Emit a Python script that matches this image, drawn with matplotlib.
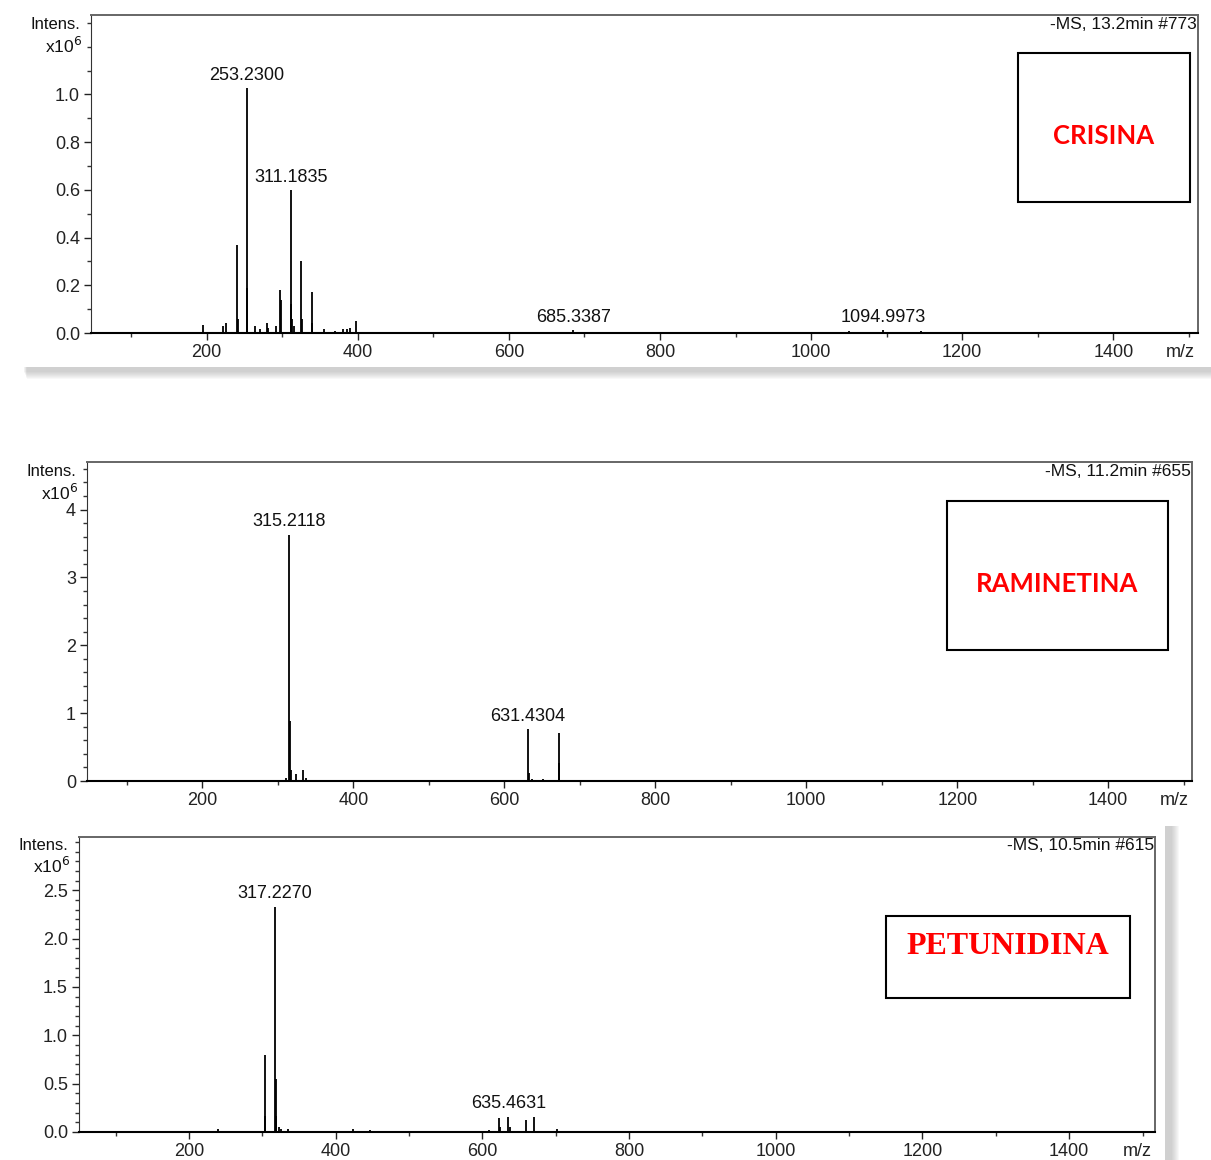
import numpy as np
import matplotlib.pyplot as plt
from matplotlib.patches import Rectangle
from matplotlib.ticker import FixedLocator

# Data ....................................................................

crisina_mz = [195, 222, 226, 240, 241, 253.23, 254, 264, 271, 280, 281, 292, 297, 299, 311.18, 312, 313,
              316, 325, 326, 339, 340, 355, 370, 380, 386, 390, 398, 430, 470, 520, 560, 600, 640,
              685.34, 710, 1050, 1095.0, 1145]
crisina_int = [0.035, 0.03, 0.04, 0.37, 0.06, 1.025, 0.19, 0.03, 0.015, 0.04, 0.02, 0.03, 0.18, 0.14, 0.60, 0.12,
               0.06, 0.03, 0.30, 0.06, 0.17, 0.04, 0.015, 0.01, 0.015, 0.015, 0.02, 0.05, 0.006, 0.006, 0.006,
               0.006, 0.006, 0.006, 0.012, 0.006, 0.01, 0.012, 0.008]
crisina_labels = [(253.23, "253.2300"), (311.18, "311.1835"), (685.34, "685.3387"), (1095.0, "1094.9973")]

raminetina_mz = [205, 255, 300, 311, 315.21, 316, 317, 324, 333, 337, 358, 405, 631.43, 632, 636, 651, 659,
                 672, 673, 695]
raminetina_int = [0.01, 0.01, 0.01, 0.04, 3.63, 0.88, 0.16, 0.10, 0.16, 0.05, 0.01, 0.01, 0.76, 0.12, 0.03,
                  0.03, 0.02, 0.70, 0.27, 0.02]
raminetina_labels = [(315.21, "315.2118"), (631.43, "631.4304")]

petunidina_mz = [240, 290, 303, 304, 317.23, 318, 319, 322, 326, 335, 424, 447, 609, 623, 624, 635.46, 637,
                 659, 671, 702, 735, 760]
petunidina_int = [0.03, 0.01, 0.80, 0.17, 2.33, 0.55, 0.17, 0.05, 0.03, 0.03, 0.03, 0.02, 0.02, 0.145, 0.05,
                  0.16, 0.05, 0.12, 0.15, 0.03, 0.01, 0.01]
petunidina_labels = [(317.23, "317.2270"), (635.46, "635.4631")]

scan_titles = ["-MS, 13.2min #773", "-MS, 11.2min #655", "-MS, 10.5min #615"]
compounds = ["CRISINA", "RAMINETINA", "PETUNIDINA"]

# Figure ..........................................................................................

W, H = 1211, 1160
fig = plt.figure(figsize=(W / 100, H / 100), dpi=100)
plt.rcParams['font.family'] = ['Liberation Sans', 'DejaVu Sans']

def px_rect(x0, y0, x1, y1):
    # pixel box (top-left origin) -> figure fraction rect
    return [x0 / W, 1 - y1 / H, (x1 - x0) / W, (y1 - y0) / H]

def card(x0, y0, x1, y1, dx, dy):
    # soft drop shadow + white card behind a panel
    for k in range(8, 0, -1):
        r = px_rect(x0 + k * 0.5, y0 + dy * 0.5, x1 + dx + k, y1 + dy + k)
        fig.patches.append(Rectangle(r[:2], r[2], r[3], transform=fig.transFigure,
                                     facecolor='#808080', alpha=0.05, edgecolor='none', zorder=-2))
    r = px_rect(x0, y0, x1, y1)
    fig.patches.append(Rectangle(r[:2], r[2], r[3], transform=fig.transFigure,
                                 facecolor='white', edgecolor='none', zorder=-1))

card(23, 4, 1216, 367, 0, 4)
card(10, 826, 1165, 1170, 6, 0)

def panel(rect_px, mz, inten, labels, ylim, yticks, yminor, ylabels, title, name, box_px,
          name_font, name_size, name_dy, xlim):
    ax = fig.add_axes(px_rect(*rect_px))
    ax.patch.set_alpha(0)
    ax.vlines(mz, 0, inten, color='black', lw=1.3)
    for m, lab in labels:
        h = inten[mz.index(m)]
        ax.annotate(lab, (m, h), xytext=(0, 3), textcoords='offset points', ha='center', va='bottom',
                    fontsize=13, color='#111111')
    ax.set_xlim(*xlim)
    ax.set_ylim(*ylim)
    ax.xaxis.set_major_locator(FixedLocator([200, 400, 600, 800, 1000, 1200, 1400]))
    ax.xaxis.set_minor_locator(FixedLocator([100, 300, 500, 700, 900, 1100, 1300, 1500]))
    ax.set_yticks(yticks)
    ax.set_yticklabels(ylabels)
    ax.yaxis.set_minor_locator(FixedLocator(yminor))
    ax.tick_params(axis='both', which='major', direction='out', length=5, width=1, labelsize=13,
                   colors='#222222', pad=3)
    ax.tick_params(axis='both', which='minor', direction='out', length=3, width=1, colors='#333333')
    for s in ['top', 'right']:
        ax.spines[s].set_color('#666666')
        ax.spines[s].set_linewidth(1.4)
    ax.spines['left'].set_color('#333333')
    ax.spines['bottom'].set_color('black')
    ax.spines['bottom'].set_linewidth(1.5)
    ax.text(0.999, 0.995, title, transform=ax.transAxes, ha='right', va='top', fontsize=12.5,
            color='#111111')
    ax.annotate("m/z", xy=(0.997, 0), xycoords='axes fraction', xytext=(0, -8), textcoords='offset points',
                ha='right', va='top', fontsize=13, color='#222222')
    ax.text(-0.01, 0.995, "Intens.", transform=ax.transAxes, ha='right', va='top', fontsize=12,
            color='#111111')
    ax.text(-0.008, 0.935, r"x10$^{6}$", transform=ax.transAxes, ha='right', va='top', fontsize=12.5,
            color='#111111')

    # compound name box
    bx0, by0, bx1, by1 = box_px
    r = px_rect(bx0, by0, bx1, by1)
    fig.patches.append(Rectangle(r[:2], r[2], r[3], transform=fig.transFigure, facecolor='white',
                                 edgecolor='black', lw=1.5, zorder=3))
    fig.text(r[0] + r[2] / 2, r[1] + r[3] / 2 - name_dy / H, name, ha='center', va='center',
             color='#FF0000', fontsize=name_size, fontweight='bold', family=name_font, zorder=4)
    return ax

panel((91, 15, 1198, 333), crisina_mz, crisina_int, crisina_labels, (0, 1.333),
      [0, 0.2, 0.4, 0.6, 0.8, 1.0], np.arange(0.1, 1.31, 0.1),
      ["0.0", "0.2", "0.4", "0.6", "0.8", "1.0"], scan_titles[0], compounds[0],
      (1018, 53, 1190, 202), ['Lato', 'DejaVu Sans'], 18.5, 9, (47, 1512))

panel((87, 462, 1192, 781), raminetina_mz, raminetina_int, raminetina_labels, (0, 4.7),
      [0, 1, 2, 3, 4], np.arange(0.2, 4.61, 0.2),
      ["0", "1", "2", "3", "4"], scan_titles[1], compounds[1],
      (947, 501, 1168, 650), ['Lato', 'DejaVu Sans'], 18.5, 9, (47, 1511))

panel((79, 837, 1155, 1132), petunidina_mz, petunidina_int, petunidina_labels, (0, 3.05),
      [0, 0.5, 1.0, 1.5, 2.0, 2.5], np.arange(0.1, 3.01, 0.1),
      ["0.0", "0.5", "1.0", "1.5", "2.0", "2.5"], scan_titles[2], compounds[2],
      (886, 916, 1130, 998), ['Liberation Serif', 'DejaVu Serif'], 23, -11, (50, 1517))

plt.savefig('out.png', dpi=100)
